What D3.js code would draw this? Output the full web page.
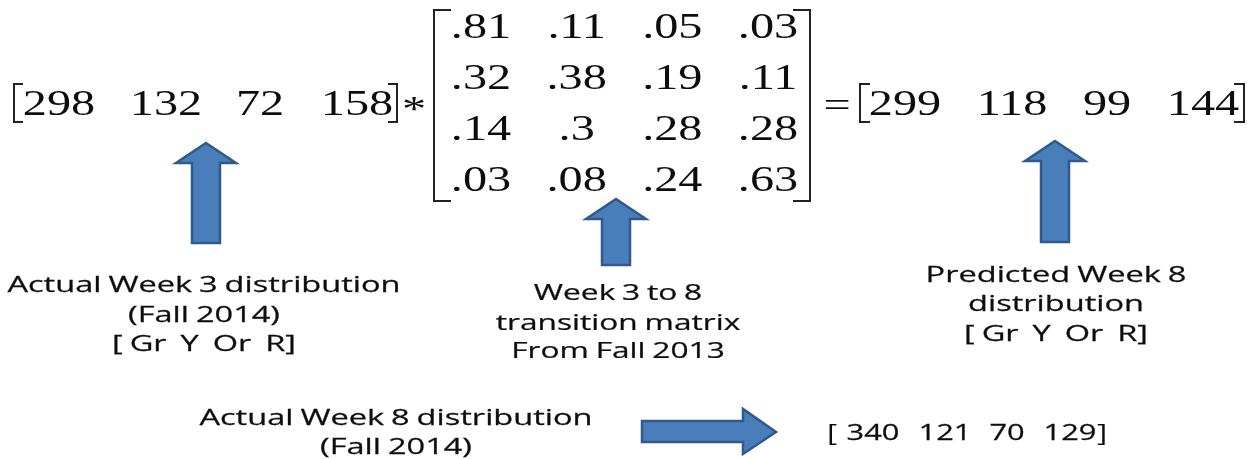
<!DOCTYPE html>
<html>
<head>
<meta charset="utf-8">
<script src="https://cdnjs.cloudflare.com/ajax/libs/d3/7.8.5/d3.min.js"></script>
<style>
  html, body { margin: 0; padding: 0; background: #fff; }
  svg { display: block; }
  text { white-space: pre; }
</style>
</head>
<body>
<script>
// values
var week3Actual = ["298", "132", "72", "158"];
var week8Predicted = ["299", "118", "99", "144"];
var week8Actual = ["340", "121", "70", "129"];
var matrixRows = ["r1", "r2", "r3", "r4"];
var matrixCols = ["c1", "c2", "c3", "c4"];
var matrixValues = [
  [".81", ".11", ".05", ".03"],
  [".32", ".38", ".19", ".11"],
  [".14", ".3", ".28", ".28"],
  [".03", ".08", ".24", ".63"]
];
var week3Label = ["Actual Week 3 distribution", "(Fall 2014)", "[ Gr  Y  Or  R]"];
var matrixLabel = ["Week 3 to 8", "transition matrix", "From Fall 2013"];
var predictedLabel = ["Predicted Week 8", "distribution", "[ Gr  Y  Or  R]"];
var actualLabel = ["Actual Week 8 distribution", "(Fall 2014)"];

var width = 1253, height = 459;
var serif = "'Liberation Serif', serif";
var sans = "'Open Sans', sans-serif";

var svg = d3.select("body").append("svg")
    .attr("width", width)
    .attr("height", height);

var defs = svg.append("defs");
defs.append("filter").attr("id", "soft")
  .append("feGaussianBlur").attr("stdDeviation", 0.45);

var g = svg.append("g").attr("filter", "url(#soft)");

// Scales for the number rows
var xLeft = d3.scaleOrdinal().domain(week3Actual).range([59, 166, 260, 357]);
var xRight = d3.scaleOrdinal().domain(week8Predicted).range([905, 1012, 1107, 1203]);
var xBottom = d3.scaleOrdinal().domain(week8Actual).range([873, 945, 1007, 1070]);
var xMatrix = d3.scalePoint().domain(matrixCols).range([481, 768]);
var yMatrix = d3.scalePoint().domain(matrixRows).range([38, 191]);

// Text is stretched sideways in the original slide
function stretched(x, y, str, size, family, sx) {
  return g.append("text")
    .attr("transform", "translate(" + x + "," + y + ") scale(" + sx + ",1)")
    .attr("text-anchor", "middle")
    .attr("font-family", family)
    .attr("font-size", size)
    .attr("fill", "#111")
    .text(str);
}

week3Actual.forEach(function(d) { stretched(xLeft(d), 115, d, 36, serif, 1.34); });
week8Predicted.forEach(function(d) { stretched(xRight(d), 115, d, 36, serif, 1.34); });
matrixValues.forEach(function(row, i) {
  row.forEach(function(d, j) {
    stretched(xMatrix(matrixCols[j]), yMatrix(matrixRows[i]), d, 36, serif, 1.34);
  });
});
week8Actual.forEach(function(d) {
  stretched(xBottom(d), 440, d, 22, sans, 1.4).attr("stroke", "#111").attr("stroke-width", 0.25);
});

stretched(414, 121, "*", 36, serif, 1.34);
stretched(837, 117, "=", 36, serif, 1.34);

// Brackets
function bracket(x, dir, top, bottom, foot, weight) {
  g.append("path")
    .attr("d", d3.line()([[x + dir * foot, top], [x, top], [x, bottom], [x + dir * foot, bottom]]))
    .attr("fill", "none")
    .attr("stroke", "#222")
    .attr("stroke-width", weight);
}
bracket(14, 1, 84, 122, 9, 2);
bracket(397, -1, 84, 122, 9, 2);
bracket(434, 1, 10, 201, 17, 2);
bracket(810, -1, 10, 201, 17, 2);
bracket(860, 1, 84, 122, 10, 2);
bracket(1244, -1, 84, 122, 10, 2);
stretched(832, 441, "[", 24, sans, 1.3);
stretched(1102, 441, "]", 24, sans, 1.3);

// Block arrows
function upArrow(cx, tip, bottom) {
  var pts = [[cx, tip], [cx + 30, tip + 20], [cx + 14, tip + 20], [cx + 14, bottom],
             [cx - 14, bottom], [cx - 14, tip + 20], [cx - 30, tip + 20]];
  g.append("path")
    .attr("d", d3.line()(pts) + "Z")
    .attr("fill", "#4a7ebb")
    .attr("stroke", "#2f5a8c")
    .attr("stroke-width", 2.5);
}
upArrow(206, 143, 243);
upArrow(616, 199, 265);
upArrow(1055, 141, 242);

g.append("path")
  .attr("d", d3.line()([[642, 421], [743, 421], [743, 409], [776, 432], [743, 454], [743, 442], [642, 442]]) + "Z")
  .attr("fill", "#4a7ebb")
  .attr("stroke", "#2f5a8c")
  .attr("stroke-width", 2.5);

// Captions
function caption(lines, cx, ys, sx) {
  lines.forEach(function(d, i) {
    stretched(cx, ys[i], d, 22, sans, sx)
      .attr("word-spacing", -1)
      .attr("stroke", "#111")
      .attr("stroke-width", 0.25);
  });
}
caption(week3Label, 204, [292, 322, 351], 1.48);
caption(matrixLabel, 618, [300, 330, 358], 1.44);
caption(predictedLabel, 1056, [282, 311, 341], 1.48);
caption(actualLabel, 396, [425, 454], 1.48);
</script>
</body>
</html>
